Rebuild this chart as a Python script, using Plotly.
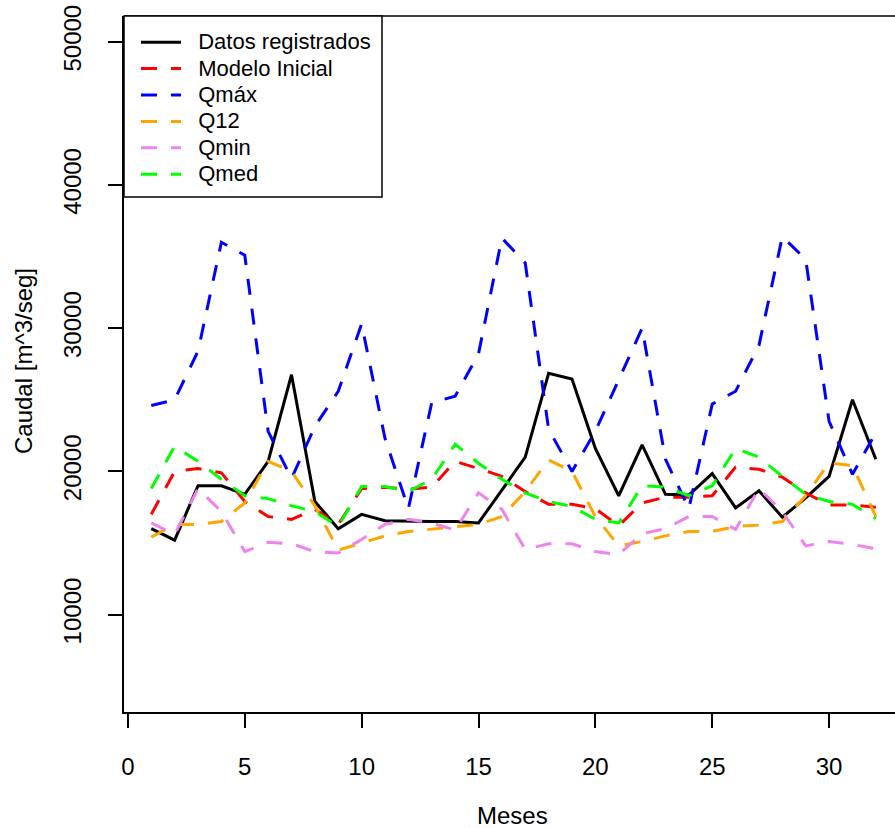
import plotly.graph_objects as go

meses = list(range(1, 33))

datos = [16000, 15200, 19000, 19000, 18400, 20700, 26750, 17900, 16000, 17000,
         16550, 16500, 16500, 16500, 16400, 18700, 21000, 26850, 26450, 21600,
         18300, 21850, 18400, 18350, 19850, 17450, 18650, 16800, 18150, 19650,
         25000, 20850]
modelo = [17000, 20000, 20200, 19900, 17900, 16850, 16650, 17350, 16300, 18800,
          18900, 18750, 18900, 20700, 20200, 19650, 18600, 17700, 17700, 17400,
          16200, 17800, 18200, 18200, 18300, 20300, 20150, 19600, 18500, 17650,
          17650, 17500]
qmax = [24600, 25000, 28400, 36000, 35100, 22800, 19500, 23150, 25600, 30300,
        22300, 17400, 24800, 25250, 28200, 36300, 34550, 22950, 20000, 22800,
        26400, 30000, 20850, 17400, 24700, 25600, 28800, 36400, 34800, 23500,
        19800, 22700]
q12 = [15400, 16300, 16300, 16500, 17800, 20700, 20000, 17600, 14500, 15000,
       15500, 15800, 15950, 16150, 16300, 16850, 18600, 20800, 20000, 16850,
       14800, 15100, 15500, 15800, 15800, 16150, 16250, 16500, 18300, 20600,
       20400, 16850]
qmin = [16400, 15600, 18800, 17200, 14400, 15050, 14950, 14400, 14300, 15250,
        16300, 16650, 16400, 15900, 18500, 17350, 14550, 14950, 14950, 14400,
        14200, 15650, 16000, 16850, 16850, 15950, 18800, 17200, 14800, 15100,
        14900, 14600]
qmed = [18800, 21750, 20700, 19450, 18300, 18100, 17600, 17200, 16150, 18950,
        18950, 18600, 19450, 21900, 20570, 19450, 18500, 17900, 17550, 16650,
        16400, 19000, 18900, 18300, 19000, 21600, 21000, 19650, 18400, 17900,
        17700, 16700]

x_ticks = [0, 5, 10, 15, 20, 25, 30]
y_ticks = [10000, 20000, 30000, 40000, 50000]
y_ticktext = [str(v) for v in y_ticks]

series = [
    ("Datos registrados", datos, "black", "solid"),
    ("Modelo Inicial", modelo, "#FF0000", "16px,14px"),
    ("Qmáx", qmax, "#0000FF", "16px,14px"),
    ("Q12", q12, "#FFA500", "16px,14px"),
    ("Qmin", qmin, "#EE82EE", "16px,14px"),
    ("Qmed", qmed, "#00FF00", "16px,14px"),
]

FONT = "Liberation Sans, Arial, sans-serif"

# plot area in pixels
L, T, W, H = 124, 16, 771, 696

fig = go.Figure()
for name, vals, color, dash in series:
    fig.add_trace(go.Scatter(
        x=meses, y=vals, mode="lines",
        name='<span style="font-size:22px">\u00a0\u00a0' + name + '</span>',
        line=dict(color=color, width=3, dash=dash)))

fig.update_layout(
    width=895, height=828,
    margin=dict(l=L, r=0, t=T, b=828 - T - H),
    plot_bgcolor="white", paper_bgcolor="white",
    font=dict(family=FONT, size=24, color="black"),
    showlegend=True,
    legend=dict(x=12 / W, y=1 - 8 / H, xanchor="left", yanchor="top",
                bgcolor="rgba(0,0,0,0)", borderwidth=0,
                font=dict(family=FONT, size=18, color="black"),
                itemwidth=40, tracegroupgap=0),
    xaxis=dict(range=[-0.167, 32.82], showgrid=False, zeroline=False,
               showline=True, linecolor="black", linewidth=1.5,
               ticks="outside", ticklen=14, tickwidth=1.5, tickcolor="black",
               tickvals=x_ticks, ticklabelstandoff=18,
               tickfont=dict(family=FONT, size=24)),
    yaxis=dict(range=[3200, 51800], showgrid=False, zeroline=False,
               showline=True, linecolor="black", linewidth=1.5,
               ticks="outside", ticklen=14, tickwidth=1.5, tickcolor="black",
               tickvals=y_ticks, ticktext=y_ticktext, tickangle=-90,
               ticklabelstandoff=18, tickfont=dict(family=FONT, size=24)),
    shapes=[
        dict(type="line", xref="paper", yref="paper", x0=0, x1=1, y0=1, y1=1,
             line=dict(color="black", width=1.5)),
        dict(type="rect", xref="paper", yref="paper", layer="above",
             x0=0, x1=(382 - L) / W, y0=1, y1=1 - (197 - T) / H,
             fillcolor="white", line=dict(color="black", width=1.5)),
    ],
    annotations=[
        dict(text="Meses", xref="paper", yref="paper", x=(512 - L) / W,
             y=-(815 - (T + H)) / H, xanchor="center", yanchor="middle",
             showarrow=False, font=dict(family=FONT, size=24)),
        dict(text="Caudal [m^3/seg]", xref="paper", yref="paper",
             x=-(L - 23) / W, y=(T + H - 361) / H, textangle=-90,
             xanchor="center", yanchor="middle", showarrow=False,
             font=dict(family=FONT, size=24)),
    ],
)

fig.write_html("out.html")
